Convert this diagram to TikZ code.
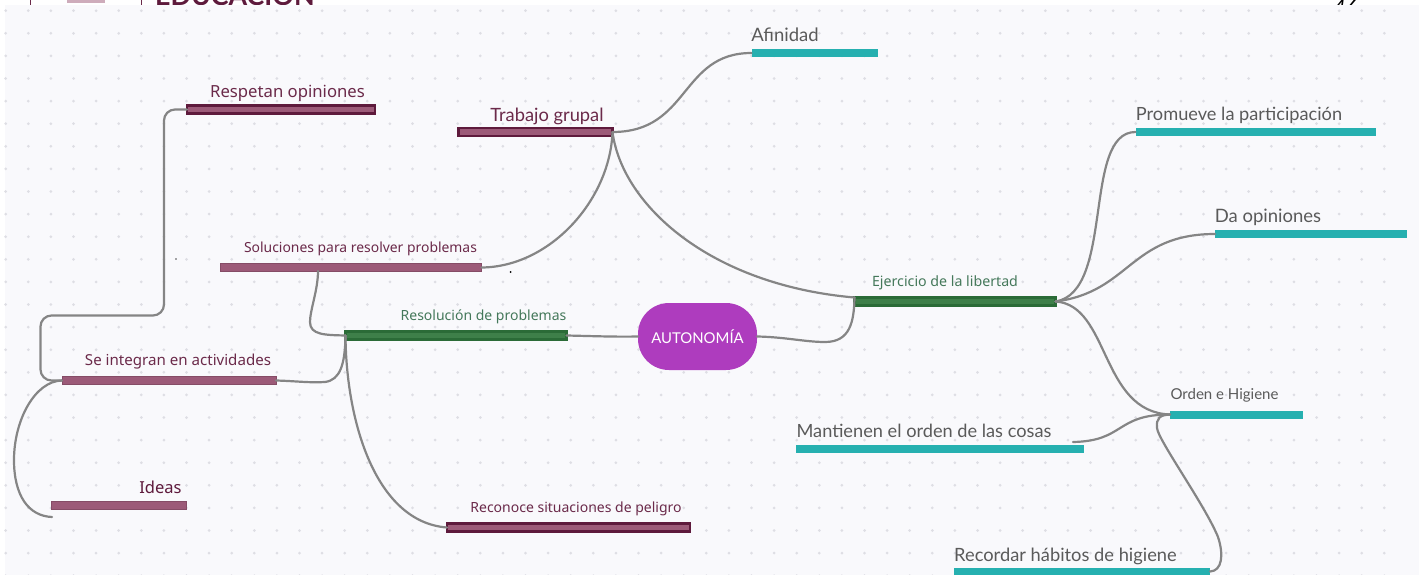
\documentclass[tikz,border=0pt]{standalone}
\usepackage{fontspec}
\setmainfont{Lato}
\newfontfamily\notofont{Noto Sans}
\definecolor{panelbg}{HTML}{F9F9FC}
\definecolor{dotcol}{HTML}{DEDEE4}
\definecolor{linecol}{HTML}{858585}
\definecolor{maroon}{HTML}{5E1A3C}
\definecolor{rosefill}{HTML}{9C5A78}
\definecolor{greenline}{HTML}{2B6B37}
\definecolor{greenfill}{HTML}{3E7F49}
\definecolor{tealbar}{HTML}{26B0B0}
\definecolor{purplenode}{HTML}{AE3CBE}
\definecolor{maroontext}{HTML}{6B2A4A}
\definecolor{greentext}{HTML}{44785A}
\definecolor{greytext}{HTML}{5A5A5A}
\tikzset{
  barbase/.style={rectangle,anchor=west,inner sep=0pt,outer sep=0pt,minimum height=8pt},
  darkbar/.style={barbase,draw=maroon,fill=rosefill,line width=2.2pt},
  rosebar/.style={barbase,draw=rosefill!85!black,fill=rosefill,line width=.8pt},
  greenbar/.style={barbase,draw=greenline,fill=greenfill,line width=2.4pt},
  tealstrip/.style={barbase,fill=tealbar},
  lbl/.style={inner sep=0pt,outer sep=0pt,anchor=center},
  maroonlbl/.style={lbl,text=maroontext},
  greenlbl/.style={lbl,text=greentext},
  greylbl/.style={lbl,text=greytext},
  link/.style={draw=linecol,line width=2.2pt,line cap=round},
}
\newcommand{\fs}[1]{\fontsize{#1}{#1}\selectfont}
\begin{document}
\begin{tikzpicture}[x=1pt,y=-1pt]
\useasboundingbox (0,0) rectangle (1421,575);
\fill[white] (0,0) rectangle (1421,575);
% clipped header remains
\begin{scope}
  \clip (0,0) rectangle (1421,5);
  \fill[maroontext] (29.5,0) rectangle (31,5);
  \fill[rosefill!50!white] (67,0) rectangle (105,3);
  \fill[maroontext] (140.5,0) rectangle (142,5);
  \node[anchor=base west,inner sep=0pt,text=maroon] (edu) at (155,6) {\fs{26.8}\bfseries EDUCACIÓN};
  \node[anchor=base west,inner sep=0pt,text=black] (num) at (1333,16) {\fs{22}\itshape 46};
\end{scope}
% panel
\fill[panelbg] (5,5) rectangle (1419,575);
\foreach \i in {0,...,61}{
  \foreach \j in {0,...,25}{
    \fill[dotcol] ({5.7+22.6*\i},{10.7+22.6*\j}) circle (1.5pt);
  }
}
\fill[black!70] (176,259) circle (.9pt);
\fill[black] (510.5,272) circle (1pt);
% bars
\node[darkbar,minimum width=188pt] (respetan) at (187,109.5) {};
\node[darkbar,minimum width=154pt] (trabajo) at (458.5,132) {};
\node[rosebar,minimum width=261pt] (soluciones) at (220.5,267.5) {};
\node[rosebar,minimum width=214pt] (integran) at (62,380.5) {};
\node[rosebar,minimum width=135pt] (ideas) at (51,505) {};
\node[darkbar,minimum width=243pt] (reconoce) at (447,527.5) {};
\node[greenbar,minimum width=221pt] (resolucion) at (345.5,335.5) {};
\node[greenbar,minimum width=201pt] (ejercicio) at (854.5,301.5) {};
\node[tealstrip,minimum width=126pt] (afinidad) at (751.5,53) {};
\node[tealstrip,minimum width=240pt] (promueve) at (1135.5,132) {};
\node[tealstrip,minimum width=192pt] (daop) at (1215,234) {};
\node[tealstrip,minimum width=133pt] (orden) at (1170,414.5) {};
\node[tealstrip,minimum width=288pt] (mantienen) at (796,448.5) {};
\node[tealstrip,minimum width=256pt] (recordar) at (954,571.5) {};
\node[rectangle,rounded corners=31pt,fill=purplenode,minimum width=119pt,minimum height=67pt,inner sep=0pt,outer sep=0pt,text=white] (auto) at (697.5,336.5) {\fs{14.9}AUTONOMÍA};
% free ends
\coordinate (idealend) at (52,517);
\coordinate (solfoot) at (318,271);
\coordinate (mantend) at (1073,442);
% connectors
\draw[link,rounded corners=11pt] (respetan.west) -- (164,109.5) -- (164,315.5) -- (40.5,315.5) -- (40.5,380.5) -- (integran.west);
\draw[link] (integran.west) .. controls (35,381) and (14,420) .. (14,460) .. controls (14,495) and (28,516) .. (idealend);
\draw[link] (integran.east) .. controls (295,381) and (310,383) .. (325,382) .. controls (340,380) and (345,365) .. (resolucion.west);
\draw[link] (resolucion.west) .. controls (325,335) and (310,335) .. (310,322) .. controls (310,310) and (318,290) .. (solfoot);
\draw[link] (resolucion.west) .. controls (346,420) and (375,522) .. (reconoce.west);
\draw[link] (resolucion.east) .. controls (590,336) and (615,337) .. (auto.west);
\draw[link] (auto.east) .. controls (785,337) and (805,342) .. (825,342) .. controls (850,342) and (854,322) .. (ejercicio.north west);
\draw[link] (trabajo.east) .. controls (622,205) and (710,285) .. (ejercicio.north west);
\draw[link] (trabajo.east) .. controls (610,200) and (550,267) .. (soluciones.east);
\draw[link] (trabajo.east) .. controls (690,132) and (680,53) .. (afinidad.west);
\draw[link] (ejercicio.east) .. controls (1115,292) and (1082,132) .. (promueve.west);
\draw[link] (ejercicio.east) .. controls (1130,292) and (1130,234) .. (daop.west);
\draw[link] (ejercicio.east) .. controls (1110,305) and (1100,412) .. (orden.west);
\draw[link] (mantend) .. controls (1125,441) and (1115,414.5) .. (orden.west);
\draw[link] (recordar.east) .. controls (1222,571) and (1224,555) .. (1218,537) .. controls (1205,505) and (1158,440) .. (1157,428) .. controls (1156,418) and (1160,415) .. (orden.west);
% labels
\node[maroonlbl] (t1) at (287.5,93) {\notofont\fs{16.7}Respetan opiniones};
\node[maroonlbl] (t2) at (547,116) {\fs{18.3}Trabajo grupal};
\node[maroonlbl] (t3) at (360.5,249) {\notofont\fs{13.9}Soluciones para resolver problemas};
\node[greenlbl] (t4) at (483.5,317) {\notofont\fs{14}Resolución de problemas};
\node[maroonlbl] (t5) at (178,362) {\notofont\fs{15.1}Se integran en actividades};
\node[maroonlbl,text=maroon] (t6) at (160.5,487) {\notofont\fs{16.5}Ideas};
\node[maroonlbl] (t7) at (576,509) {\notofont\fs{14}Reconoce situaciones de peligro};
\node[greenlbl] (t8) at (945,283) {\notofont\fs{14.2}Ejercicio de la libertad};
\node[greylbl] (t9) at (785,35) {\fs{18.5}Afinidad};
\node[greylbl] (t10) at (1239,115.5) {\fs{18.2}Promueve la participación};
\node[greylbl] (t11) at (1268,217) {\fs{18.5}Da opiniones};
\node[greylbl] (t12) at (1224.5,395.5) {\fs{15}Orden e Higiene};
\node[greylbl] (t13) at (924,431) {\fs{18.2}Mantienen el orden de las cosas};
\node[greylbl] (t14) at (1065.5,556.5) {\fs{18.3}Recordar hábitos de higiene};
\end{tikzpicture}
\end{document}
